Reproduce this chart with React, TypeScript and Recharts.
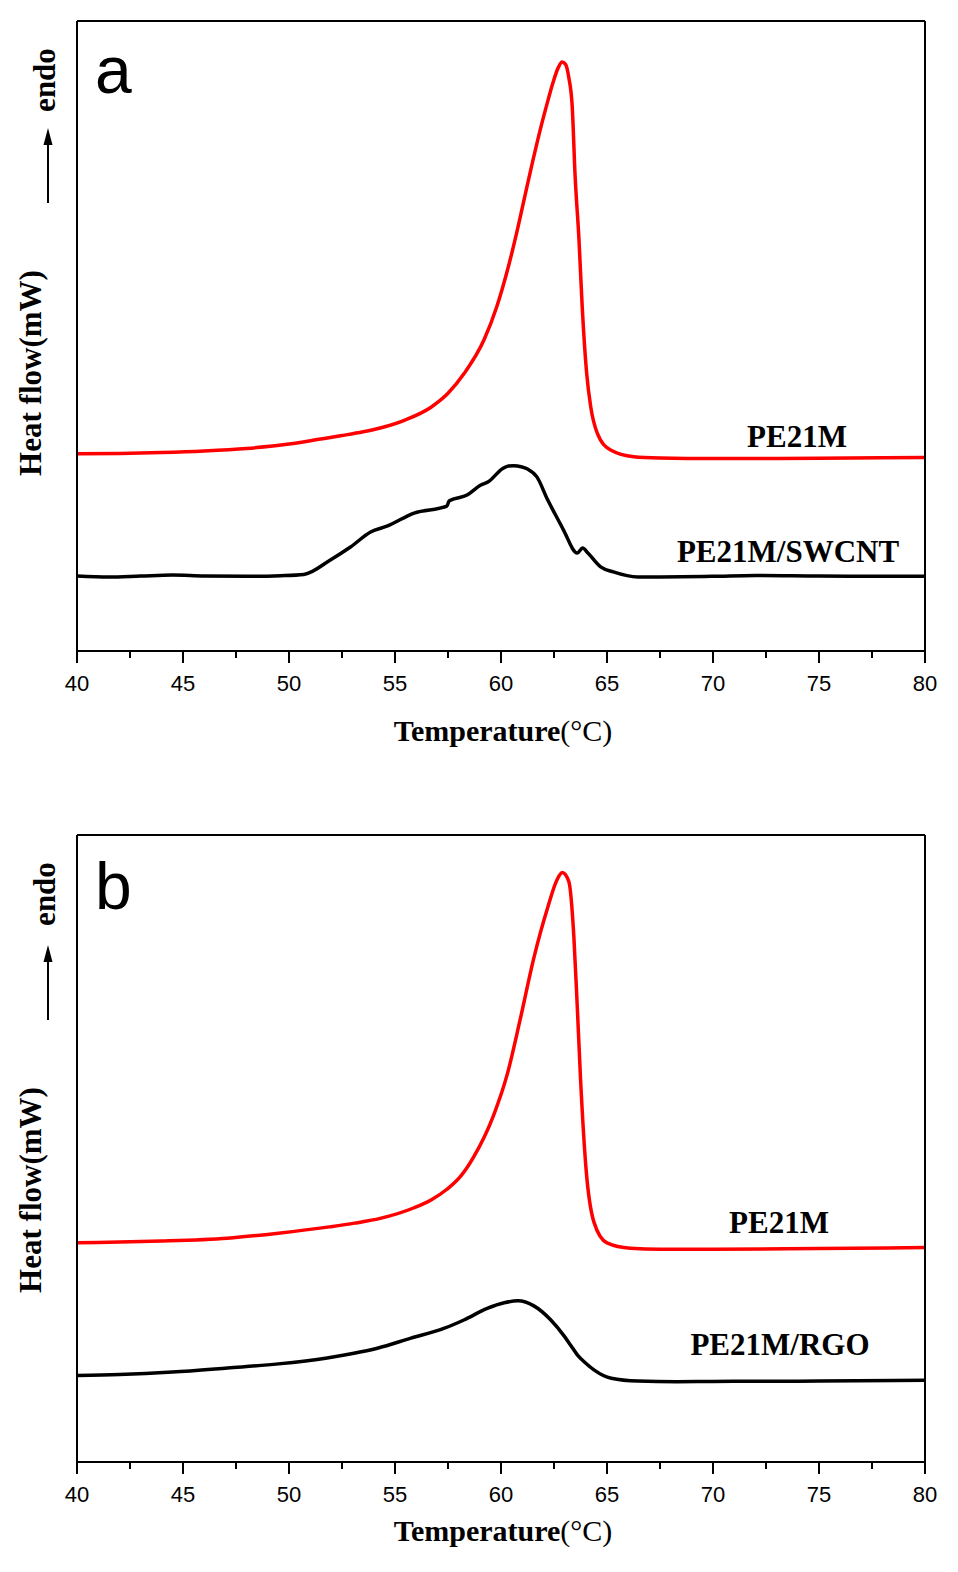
import React from "react";
import { LineChart, Line, XAxis, YAxis } from "recharts";

// temperature (°C), heat flow (arb. units, endo up)
const pe21mA: [number, number][] = [
  [40, 31.3], [42, 31.35], [44, 31.5], [46, 31.75], [48, 32.15], [50, 32.85], [51.5, 33.65],
  [52.5, 34.2], [53.5, 34.8], [54.3, 35.4], [55.5, 36.7], [56.7, 38.7], [57.5, 40.9],
  [58.25, 44.0], [59.2, 49.4], [59.8, 54.65], [60.3, 60.4], [60.7, 65.8], [61.1, 71.8],
  [61.5, 77.8], [61.9, 83.4], [62.2, 87.2], [62.45, 90.2], [62.7, 92.6], [62.88, 93.5],
  [63.05, 93.1], [63.2, 91.0], [63.36, 86.4], [63.49, 75.8], [63.68, 65.2], [63.83, 54.65],
  [64.04, 44.1], [64.23, 38.8], [64.54, 34.6], [65.17, 31.9], [66.26, 30.85], [67.5, 30.65],
  [70, 30.55], [75, 30.6], [80, 30.7],
];

const swcntA: [number, number][] = [
  [40, 11.9], [41.5, 11.75], [43, 11.9], [44.5, 12.05], [46, 11.9], [48, 11.85], [49.6, 11.95],
  [50.7, 12.15], [51.95, 14.45], [52.9, 16.5], [53.85, 18.9], [54.65, 19.85], [55.9, 21.9],
  [57.45, 23.0], [57.55, 23.8], [58.4, 24.75], [59.05, 26.35], [59.4, 26.85], [60.05, 28.9],
  [60.35, 29.35], [60.6, 29.4], [60.95, 29.25], [61.25, 28.9], [61.7, 27.6], [62.2, 24.0],
  [62.5, 22.05], [62.7, 20.8], [62.95, 19.2], [63.6, 15.55], [63.85, 16.35], [64.1, 15.55],
  [64.7, 13.35], [65.3, 12.55], [66.45, 11.75], [67.5, 11.75], [70, 11.85], [72, 12.0],
  [75, 11.9], [80, 11.85],
];

const pe21mB: [number, number][] = [
  [40, 34.95], [42, 35.1], [44, 35.25], [47.1, 35.7], [49.5, 36.5], [51.9, 37.5], [53.1, 38.1],
  [54.3, 38.85], [55.9, 40.55], [56.7, 41.8], [57.45, 43.5], [58.1, 45.6], [58.7, 48.6],
  [59.65, 55.3], [60.3, 61.9], [60.9, 70.5], [61.55, 80.4], [62.2, 88.4], [62.65, 92.9],
  [62.89, 94.0], [63.2, 92.55], [63.44, 83.6], [63.6, 72.45], [63.75, 61.25], [64.0, 47.25],
  [64.38, 38.3], [65.0, 34.95], [66.1, 34.1], [67.5, 33.95], [70, 33.95], [75, 34.05], [80, 34.2],
];

const rgoB: [number, number][] = [
  [40, 13.8], [42, 13.95], [44.5, 14.35], [47.1, 15.0], [49.5, 15.65], [51.8, 16.6], [53.0, 17.3],
  [54.17, 18.15], [55.75, 19.75], [57.3, 21.3], [58.25, 22.65], [59.35, 24.5], [60.15, 25.4],
  [60.8, 25.7], [61.55, 24.9], [62.35, 22.65], [63.0, 20.0], [63.3, 18.55], [63.6, 17.1],
  [64.0, 15.75], [64.4, 14.65], [65.2, 13.35], [66.45, 12.9], [68.3, 12.8], [70, 12.85],
  [75, 12.9], [80, 13.05],
];

const majorTicks = [40, 45, 50, 55, 60, 65, 70, 75, 80];
const minorTicks = [42.5, 47.5, 52.5, 57.5, 62.5, 67.5, 72.5, 77.5];
const allTicks = [...majorTicks, ...minorTicks].sort((a, b) => a - b);

const SERIF = '"Liberation Serif", "Times New Roman", serif';
const SANS = '"Liberation Sans", Arial, sans-serif';
const W = 958;
const H = 780;
const X_AXIS_H = 50;

const toRows = (pts: [number, number][]) => pts.map(([t, v]) => ({ t, v }));

function AxisTick({ x, y, payload }: any) {
  const major = majorTicks.includes(payload.value);
  return (
    <g>
      <line x1={x} x2={x} y1={y} y2={y + (major ? 12 : 7)} stroke="#000" strokeWidth={2} />
      {major && (
        <text x={x} y={y + 40} textAnchor="middle" fontFamily={SANS} fontSize={22} fill="#000">
          {payload.value}
        </text>
      )}
    </g>
  );
}

function Panel(props: any) {
  const { top, plotTop, plotBottom, letter, red, black, redLabel, blackLabel, ann } = props;
  const axisLine = { stroke: "#000", strokeWidth: 2 };
  return (
    <>
      <div style={{ position: "absolute", left: 0, top, width: W, height: H }}>
        <LineChart
          width={W}
          height={H}
          margin={{ top: plotTop - top - 1, left: 76, right: 32, bottom: H - (plotBottom - top) - X_AXIS_H }}
        >
          <XAxis
            dataKey="t"
            type="number"
            domain={[40, 80]}
            ticks={allTicks}
            interval={0}
            height={X_AXIS_H}
            tickSize={0}
            tickMargin={0}
            tickLine={false}
            axisLine={axisLine}
            tick={AxisTick}
          />
          <XAxis xAxisId="top" orientation="top" dataKey="t" type="number" domain={[40, 80]} height={1} tick={false} tickLine={false} axisLine={axisLine} />
          <YAxis type="number" domain={[0, 100]} width={1} tick={false} tickLine={false} axisLine={axisLine} />
          <YAxis yAxisId="r" orientation="right" type="number" domain={[0, 100]} width={1} tick={false} tickLine={false} axisLine={axisLine} />
          <Line data={toRows(red)} dataKey="v" type="monotone" stroke="#ff0000" strokeWidth={3.5} dot={false} isAnimationActive={false} />
          <Line data={toRows(black)} dataKey="v" type="monotone" stroke="#000" strokeWidth={3.5} dot={false} isAnimationActive={false} />
        </LineChart>
      </div>
      <svg width={W} height={1572} style={{ position: "absolute", left: 0, top: 0, pointerEvents: "none" }}>
        <text x={95} y={ann.letterY} fontFamily={SANS} fontSize={66} fill="#000">{letter}</text>
        <text
          x={55}
          y={ann.endoY}
          transform={`rotate(-90 55 ${ann.endoY})`}
          textAnchor="middle"
          fontFamily={SERIF}
          fontWeight="bold"
          fontSize={31}
          fill="#000"
        >
          endo
        </text>
        <line x1={48} x2={48} y1={ann.arrowBottom} y2={ann.arrowTip + 14} stroke="#000" strokeWidth={2} />
        <polygon
          points={`48,${ann.arrowTip} 43.5,${ann.arrowTip + 17} 52.5,${ann.arrowTip + 17}`}
          fill="#000"
        />
        <text
          x={41}
          y={ann.heatY}
          transform={`rotate(-90 41 ${ann.heatY})`}
          textAnchor="middle"
          fontFamily={SERIF}
          fontWeight="bold"
          fontSize={31}
          fill="#000"
        >
          Heat flow(mW)
        </text>
        <text x={redLabel.x} y={redLabel.y} textAnchor="middle" fontFamily={SERIF} fontWeight="bold" fontSize={31} fill="#000">
          {redLabel.text}
        </text>
        <text x={blackLabel.x} y={blackLabel.y} textAnchor="middle" fontFamily={SERIF} fontWeight="bold" fontSize={31} fill="#000">
          {blackLabel.text}
        </text>
        <text x={503} y={ann.titleY} textAnchor="middle" fontFamily={SERIF} fontWeight="bold" fontSize={30} fill="#000">
          Temperature<tspan fontWeight="normal">(°C)</tspan>
        </text>
      </svg>
    </>
  );
}

export default function App() {
  return (
    <div style={{ position: "absolute", left: 0, top: 0, width: W, height: 1572, background: "#fff" }}>
      <Panel
        top={0}
        plotTop={21}
        plotBottom={651}
        letter="a"
        red={pe21mA}
        black={swcntA}
        redLabel={{ text: "PE21M", x: 797, y: 447 }}
        blackLabel={{ text: "PE21M/SWCNT", x: 788, y: 562 }}
        ann={{ letterY: 93, endoY: 80, arrowTip: 128, arrowBottom: 203, heatY: 373, titleY: 741 }}
      />
      <Panel
        top={790}
        plotTop={835}
        plotBottom={1462}
        letter="b"
        red={pe21mB}
        black={rgoB}
        redLabel={{ text: "PE21M", x: 779, y: 1233 }}
        blackLabel={{ text: "PE21M/RGO", x: 780, y: 1355 }}
        ann={{ letterY: 909, endoY: 894, arrowTip: 945, arrowBottom: 1020, heatY: 1190, titleY: 1541 }}
      />
    </div>
  );
}
